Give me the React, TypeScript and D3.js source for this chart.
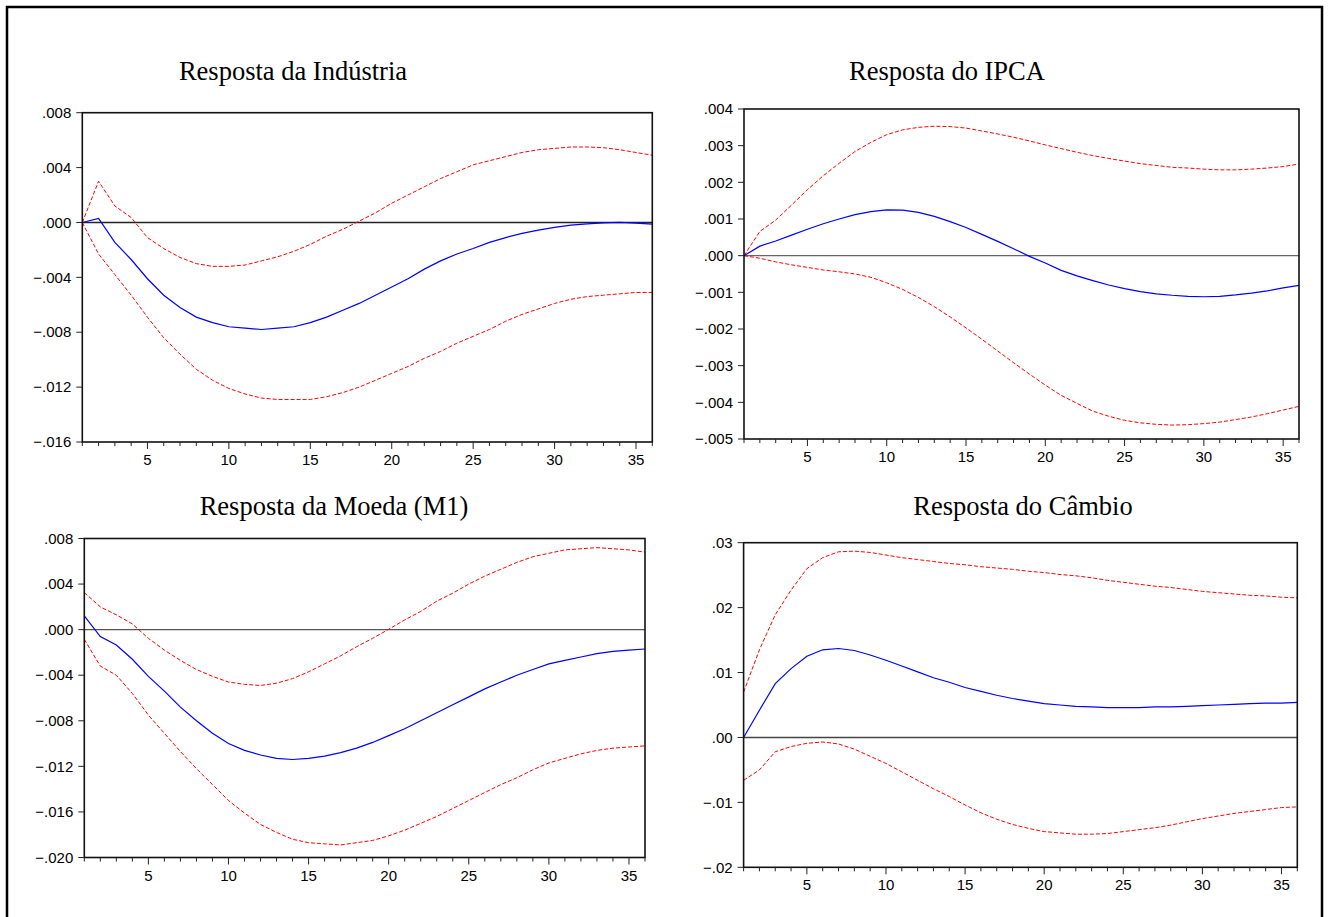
import React from "react";
import * as d3 from "d3";

const periods = d3.range(1, 37);

const industriaResp = [0, 0.0003, -0.00145, -0.0027, -0.0041, -0.0053, -0.0062, -0.0069, -0.0073, -0.0076, -0.0077, -0.0078, -0.0077, -0.0076, -0.0073, -0.0069, -0.0064, -0.0059, -0.0053, -0.0047, -0.0041, -0.0034, -0.0028, -0.0023, -0.0019, -0.00145, -0.0011, -0.0008, -0.00056, -0.00036, -0.0002, -0.0001, -0.00003, 0, -0.00005, -0.00012];
const industriaUpper = [0, 0.003, 0.0012, 0.00036, -0.0011, -0.0019, -0.00255, -0.003, -0.0032, -0.0032, -0.0031, -0.0028, -0.0025, -0.0021, -0.0016, -0.001, -0.0005, 0.0001, 0.0007, 0.0014, 0.002, 0.0026, 0.0032, 0.0037, 0.0042, 0.0045, 0.0048, 0.0051, 0.0053, 0.0054, 0.0055, 0.0055, 0.00545, 0.0053, 0.0051, 0.0049];
const industriaLower = [0, -0.0023, -0.0038, -0.0053, -0.0069, -0.0084, -0.0096, -0.0107, -0.0115, -0.0121, -0.0125, -0.0128, -0.0129, -0.0129, -0.0129, -0.0127, -0.0124, -0.012, -0.0115, -0.011, -0.0105, -0.0099, -0.0094, -0.0088, -0.0083, -0.0078, -0.0072, -0.0067, -0.0063, -0.0059, -0.0056, -0.0054, -0.0053, -0.0052, -0.0051, -0.0051];

const ipcaResp = [0, 0.00026, 0.0004, 0.00056, 0.00072, 0.00087, 0.001, 0.00112, 0.0012, 0.00125, 0.00124, 0.00118, 0.00107, 0.00093, 0.00077, 0.00058, 0.00039, 0.00019, -0.00002, -0.0002, -0.0004, -0.00055, -0.00068, -0.0008, -0.0009, -0.00098, -0.00104, -0.00108, -0.00111, -0.00112, -0.00111, -0.00107, -0.00102, -0.00096, -0.00088, -0.00081];
const ipcaUpper = [0, 0.00066, 0.00097, 0.00138, 0.0018, 0.00218, 0.00252, 0.00284, 0.00309, 0.0033, 0.00343, 0.0035, 0.00353, 0.00352, 0.00348, 0.0034, 0.00332, 0.00323, 0.00313, 0.00302, 0.00292, 0.00282, 0.00273, 0.00265, 0.00258, 0.00251, 0.00246, 0.00241, 0.00239, 0.00236, 0.00234, 0.00234, 0.00236, 0.00239, 0.00243, 0.0025];
const ipcaLower = [0, -0.00007, -0.00017, -0.00025, -0.00032, -0.00039, -0.00044, -0.0005, -0.00059, -0.00074, -0.00092, -0.00114, -0.00139, -0.00167, -0.00197, -0.00228, -0.0026, -0.00292, -0.00323, -0.00353, -0.00381, -0.00403, -0.00424, -0.00438, -0.00449, -0.00456, -0.0046, -0.00462, -0.00461, -0.00458, -0.00454, -0.00447, -0.0044, -0.00431, -0.00421, -0.00411];

const moedaResp = [0.0012, -0.00061, -0.00135, -0.0026, -0.0041, -0.0054, -0.0068, -0.008, -0.0091, -0.01, -0.0106, -0.011, -0.0113, -0.0114, -0.0113, -0.0111, -0.0108, -0.0104, -0.0099, -0.0093, -0.0087, -0.008, -0.0073, -0.0066, -0.0059, -0.0052, -0.0046, -0.004, -0.0035, -0.003, -0.0027, -0.0024, -0.0021, -0.0019, -0.0018, -0.0017];
const moedaUpper = [0.00325, 0.002, 0.0013, 0.0005, -0.00076, -0.0018, -0.0027, -0.0035, -0.0041, -0.0046, -0.0048, -0.0049, -0.0047, -0.0043, -0.0037, -0.003, -0.0023, -0.0015, -0.00076, 0.00003, 0.00085, 0.0016, 0.0025, 0.0032, 0.004, 0.0047, 0.0053, 0.0059, 0.0064, 0.0067, 0.007, 0.0071, 0.0072, 0.0071, 0.007, 0.0068];
const moedaLower = [-0.00085, -0.0032, -0.004, -0.0056, -0.0075, -0.0091, -0.0107, -0.0122, -0.0136, -0.015, -0.0161, -0.0171, -0.0178, -0.0184, -0.0187, -0.0188, -0.0189, -0.0187, -0.0185, -0.0181, -0.0176, -0.017, -0.0164, -0.0157, -0.015, -0.0143, -0.0136, -0.013, -0.0123, -0.0117, -0.0113, -0.0109, -0.0106, -0.0104, -0.0103, -0.0102];

const cambioResp = [0, 0.0042, 0.0083, 0.0106, 0.0125, 0.0135, 0.0137, 0.0134, 0.0127, 0.0119, 0.011, 0.0101, 0.0092, 0.0085, 0.0077, 0.0071, 0.0065, 0.006, 0.0056, 0.0052, 0.005, 0.0048, 0.0047, 0.0046, 0.0046, 0.0046, 0.0047, 0.0047, 0.0048, 0.0049, 0.005, 0.0051, 0.0052, 0.0053, 0.0053, 0.0054];
const cambioUpper = [0.007, 0.0135, 0.0189, 0.0227, 0.026, 0.0277, 0.0286, 0.0287, 0.0285, 0.0281, 0.0277, 0.0274, 0.0271, 0.0268, 0.0266, 0.0263, 0.0261, 0.0259, 0.0256, 0.0254, 0.0251, 0.0249, 0.0246, 0.0242, 0.0239, 0.0236, 0.0233, 0.0231, 0.0228, 0.0225, 0.0223, 0.0221, 0.0219, 0.0218, 0.0216, 0.0215];
const cambioLower = [-0.0066, -0.005, -0.0022, -0.0014, -0.0009, -0.0007, -0.001, -0.0018, -0.0029, -0.004, -0.0053, -0.0066, -0.0079, -0.0091, -0.0104, -0.0116, -0.0126, -0.0134, -0.014, -0.0145, -0.0147, -0.0149, -0.0149, -0.0148, -0.0145, -0.0142, -0.0139, -0.0135, -0.013, -0.0125, -0.0121, -0.0117, -0.0114, -0.0111, -0.0108, -0.0107];

const titles = ["Resposta da Indústria", "Resposta do IPCA", "Resposta da Moeda (M1)", "Resposta do Câmbio"];
const yTicksIndustria = [-0.016, -0.012, -0.008, -0.004, 0, 0.004, 0.008];
const yTicksIpca = [-0.005, -0.004, -0.003, -0.002, -0.001, 0, 0.001, 0.002, 0.003, 0.004];
const yTicksMoeda = [-0.02, -0.016, -0.012, -0.008, -0.004, 0, 0.004, 0.008];
const yTicksCambio = [-0.02, -0.01, 0, 0.01, 0.02, 0.03];
const xTickLabels = [5, 10, 15, 20, 25, 30, 35];

const panels = [
  { title: titles[0], resp: industriaResp, upper: industriaUpper, lower: industriaLower, yTicks: yTicksIndustria, dec: 3, left: 82.3, right: 652.3, top: 112.7, bottom: 442, tx: 293, ty: 80, zero: "#222" },
  { title: titles[1], resp: ipcaResp, upper: ipcaUpper, lower: ipcaLower, yTicks: yTicksIpca, dec: 3, left: 744, right: 1299, top: 109, bottom: 439, tx: 947, ty: 80, zero: "#666" },
  { title: titles[2], resp: moedaResp, upper: moedaUpper, lower: moedaLower, yTicks: yTicksMoeda, dec: 3, left: 84.3, right: 645, top: 538.5, bottom: 857.5, tx: 334, ty: 515, zero: "#555" },
  { title: titles[3], resp: cambioResp, upper: cambioUpper, lower: cambioLower, yTicks: yTicksCambio, dec: 2, left: 743.6, right: 1297.3, top: 542.7, bottom: 867.3, tx: 1023, ty: 515, zero: "#444" },
];

function fmt(v: number, dec: number) {
  const s = d3.format(`.${dec}f`)(Math.abs(v) < 1e-12 ? 0 : v);
  return s.replace("0.", ".");
}

function Panel({ p }: { p: any }) {
  const x = d3.scaleLinear().domain([1, 36]).range([p.left, p.right]);
  const ext = d3.extent(p.yTicks) as [number, number];
  const y = d3.scaleLinear().domain(ext).range([p.bottom, p.top]);
  const line = d3.line<number>().x((_, i) => x(periods[i])).y((d) => y(d));
  return (
    <g>
      <text x={p.tx} y={p.ty} textAnchor="middle" fontFamily="'Liberation Serif', 'Times New Roman', serif" fontSize={26.5} fill="#000">
        {p.title}
      </text>
      <line x1={p.left} x2={p.right} y1={y(0)} y2={y(0)} stroke={p.zero} strokeWidth={1.4} />
      <path d={line(p.upper) || ""} fill="none" stroke="#ff0000" strokeWidth={1} strokeDasharray="4,2" />
      <path d={line(p.lower) || ""} fill="none" stroke="#ff0000" strokeWidth={1} strokeDasharray="4,2" />
      <path d={line(p.resp) || ""} fill="none" stroke="#0000ff" strokeWidth={1.2} />
      <rect x={p.left} y={p.top} width={p.right - p.left} height={p.bottom - p.top} fill="none" stroke="#111" strokeWidth={1.6} />
      {p.yTicks.map((t: number) => (
        <g key={t}>
          <line x1={p.left - 6} x2={p.left} y1={y(t)} y2={y(t)} stroke="#222" strokeWidth={1} />
          <text x={p.left - 11} y={y(t)} dy="0.35em" textAnchor="end" fontFamily="'Liberation Sans', Arial, sans-serif" fontSize={15} fill="#000">
            {fmt(t, p.dec)}
          </text>
        </g>
      ))}
      {periods.map((t) => (
        <line key={t} x1={x(t)} x2={x(t)} y1={p.bottom} y2={p.bottom + (t % 5 === 0 ? 7 : 4)} stroke="#222" strokeWidth={1} />
      ))}
      {xTickLabels.map((t) => (
        <text key={t} x={x(t)} y={p.bottom + 23} textAnchor="middle" fontFamily="'Liberation Sans', Arial, sans-serif" fontSize={15} fill="#000">
          {t}
        </text>
      ))}
    </g>
  );
}

export default function App() {
  return (
    <svg width={1331} height={917} style={{ position: "absolute", left: 0, top: 0, background: "#fff" }}>
      <rect x={0} y={0} width={1331} height={917} fill="#fff" />
      <rect x={7} y={7} width={1315} height={1000} fill="none" stroke="#000" strokeWidth={2.5} />
      {panels.map((p, i) => (
        <Panel key={i} p={p} />
      ))}
    </svg>
  );
}
